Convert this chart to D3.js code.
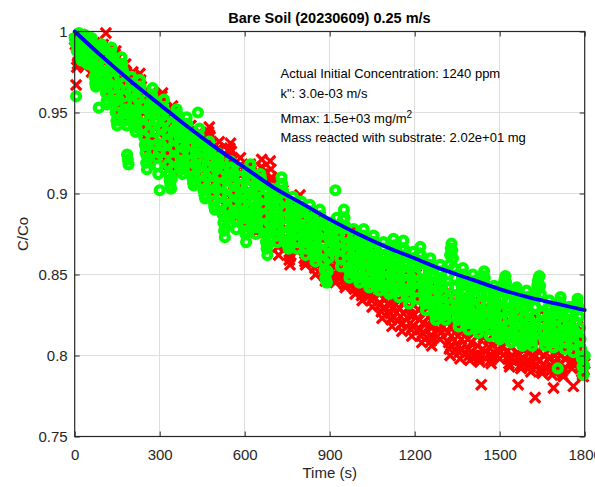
<!DOCTYPE html>
<html><head><meta charset="utf-8">
<script src="https://cdn.jsdelivr.net/npm/d3@7"></script>
<style>body{margin:0;background:#fff}svg{display:block}</style>
</head><body>
<svg id="chart" width="595" height="487"></svg>
<script>
const timeS = [
0,2.5,5,7.5,10,12.5,15,17.5,20,22.5,25,27.5,30,32.5,35,37.5,40,42.5,45,47.5,50,52.5,55,57.5,60,62.5,65,67.5,70,72.5,75,77.5,80,82.5,85,87.5,90,92.5,95,97.5,
100,102.5,105,107.5,110,112.5,115,117.5,120,122.5,125,127.5,130,132.5,135,137.5,140,142.5,145,147.5,150,152.5,155,157.5,160,162.5,165,167.5,170,172.5,175,177.5,180,182.5,185,187.5,190,192.5,195,197.5,
200,202.5,205,207.5,210,212.5,215,217.5,220,222.5,225,227.5,230,232.5,235,237.5,240,242.5,245,247.5,250,252.5,255,257.5,260,262.5,265,267.5,270,272.5,275,277.5,280,282.5,285,287.5,290,292.5,295,297.5,
300,302.5,305,307.5,310,312.5,315,317.5,320,322.5,325,327.5,330,332.5,335,337.5,340,342.5,345,347.5,350,352.5,355,357.5,360,362.5,365,367.5,370,372.5,375,377.5,380,382.5,385,387.5,390,392.5,395,397.5,
400,402.5,405,407.5,410,412.5,415,417.5,420,422.5,425,427.5,430,432.5,435,437.5,440,442.5,445,447.5,450,452.5,455,457.5,460,462.5,465,467.5,470,472.5,475,477.5,480,482.5,485,487.5,490,492.5,495,497.5,
500,502.5,505,507.5,510,512.5,515,517.5,520,522.5,525,527.5,530,532.5,535,537.5,540,542.5,545,547.5,550,552.5,555,557.5,560,562.5,565,567.5,570,572.5,575,577.5,580,582.5,585,587.5,590,592.5,595,597.5,
600,602.5,605,607.5,610,612.5,615,617.5,620,622.5,625,627.5,630,632.5,635,637.5,640,642.5,645,647.5,650,652.5,655,657.5,660,662.5,665,667.5,670,672.5,675,677.5,680,682.5,685,687.5,690,692.5,695,697.5,
700,702.5,705,707.5,710,712.5,715,717.5,720,722.5,725,727.5,730,732.5,735,737.5,740,742.5,745,747.5,750,752.5,755,757.5,760,762.5,765,767.5,770,772.5,775,777.5,780,782.5,785,787.5,790,792.5,795,797.5,
800,802.5,805,807.5,810,812.5,815,817.5,820,822.5,825,827.5,830,832.5,835,837.5,840,842.5,845,847.5,850,852.5,855,857.5,860,862.5,865,867.5,870,872.5,875,877.5,880,882.5,885,887.5,890,892.5,895,897.5,
900,902.5,905,907.5,910,912.5,915,917.5,920,922.5,925,927.5,930,932.5,935,937.5,940,942.5,945,947.5,950,952.5,955,957.5,960,962.5,965,967.5,970,972.5,975,977.5,980,982.5,985,987.5,990,992.5,995,997.5,
1000,1002.5,1005,1007.5,1010,1012.5,1015,1017.5,1020,1022.5,1025,1027.5,1030,1032.5,1035,1037.5,1040,1042.5,1045,1047.5,1050,1052.5,1055,1057.5,1060,1062.5,1065,1067.5,1070,1072.5,1075,1077.5,1080,1082.5,1085,1087.5,1090,1092.5,1095,1097.5,
1100,1102.5,1105,1107.5,1110,1112.5,1115,1117.5,1120,1122.5,1125,1127.5,1130,1132.5,1135,1137.5,1140,1142.5,1145,1147.5,1150,1152.5,1155,1157.5,1160,1162.5,1165,1167.5,1170,1172.5,1175,1177.5,1180,1182.5,1185,1187.5,1190,1192.5,1195,1197.5,
1200,1202.5,1205,1207.5,1210,1212.5,1215,1217.5,1220,1222.5,1225,1227.5,1230,1232.5,1235,1237.5,1240,1242.5,1245,1247.5,1250,1252.5,1255,1257.5,1260,1262.5,1265,1267.5,1270,1272.5,1275,1277.5,1280,1282.5,1285,1287.5,1290,1292.5,1295,1297.5,
1300,1302.5,1305,1307.5,1310,1312.5,1315,1317.5,1320,1322.5,1325,1327.5,1330,1332.5,1335,1337.5,1340,1342.5,1345,1347.5,1350,1352.5,1355,1357.5,1360,1362.5,1365,1367.5,1370,1372.5,1375,1377.5,1380,1382.5,1385,1387.5,1390,1392.5,1395,1397.5,
1400,1402.5,1405,1407.5,1410,1412.5,1415,1417.5,1420,1422.5,1425,1427.5,1430,1432.5,1435,1437.5,1440,1442.5,1445,1447.5,1450,1452.5,1455,1457.5,1460,1462.5,1465,1467.5,1470,1472.5,1475,1477.5,1480,1482.5,1485,1487.5,1490,1492.5,1495,1497.5,
1500,1502.5,1505,1507.5,1510,1512.5,1515,1517.5,1520,1522.5,1525,1527.5,1530,1532.5,1535,1537.5,1540,1542.5,1545,1547.5,1550,1552.5,1555,1557.5,1560,1562.5,1565,1567.5,1570,1572.5,1575,1577.5,1580,1582.5,1585,1587.5,1590,1592.5,1595,1597.5,
1600,1602.5,1605,1607.5,1610,1612.5,1615,1617.5,1620,1622.5,1625,1627.5,1630,1632.5,1635,1637.5,1640,1642.5,1645,1647.5,1650,1652.5,1655,1657.5,1660,1662.5,1665,1667.5,1670,1672.5,1675,1677.5,1680,1682.5,1685,1687.5,1690,1692.5,1695,1697.5,
1700,1702.5,1705,1707.5,1710,1712.5,1715,1717.5,1720,1722.5,1725,1727.5,1730,1732.5,1735,1737.5,1740,1742.5,1745,1747.5,1750,1752.5,1755,1757.5,1760,1762.5,1765,1767.5,1770,1772.5,1775,1777.5,1780,1782.5,1785,1787.5,1790,1792.5,1795,1797.5,
1800];

const redCC = [
0.995,0.992,0.967,0.978,0.980,0.986,0.992,0.995,0.998,0.994,0.990,0.988,0.985,0.982,0.978,0.983,0.988,0.992,0.995,0.993,0.990,0.986,0.982,0.979,0.975,0.980,0.985,0.989,0.993,0.990,0.987,0.982,0.978,0.974,0.970,0.975,0.980,0.985,0.990,0.991,
0.992,0.988,0.985,0.987,0.999,0.990,0.988,0.983,0.978,0.973,0.968,0.964,0.960,0.966,0.972,0.978,0.983,0.986,0.988,0.983,0.978,0.971,0.965,0.960,0.955,0.951,0.948,0.954,0.960,0.966,0.972,0.976,0.980,0.975,0.970,0.964,0.958,0.951,0.945,0.953,
0.962,0.968,0.975,0.972,0.968,0.961,0.955,0.950,0.945,0.951,0.958,0.966,0.974,0.970,0.966,0.960,0.955,0.950,0.945,0.940,0.935,0.930,0.925,0.932,0.940,0.946,0.952,0.957,0.962,0.960,0.958,0.953,0.948,0.941,0.935,0.928,0.922,0.926,0.930,0.938,
0.945,0.951,0.958,0.960,0.962,0.956,0.950,0.944,0.938,0.931,0.925,0.921,0.918,0.924,0.930,0.938,0.945,0.950,0.954,0.951,0.948,0.941,0.935,0.928,0.922,0.917,0.912,0.916,0.920,0.926,0.932,0.937,0.942,0.938,0.935,0.928,0.922,0.918,0.915,0.920,
0.925,0.930,0.935,0.938,0.942,0.937,0.932,0.925,0.918,0.915,0.912,0.916,0.920,0.925,0.930,0.934,0.938,0.932,0.926,0.920,0.915,0.910,0.905,0.908,0.912,0.918,0.925,0.930,0.935,0.938,0.941,0.935,0.930,0.924,0.918,0.912,0.906,0.902,0.898,0.905,
0.912,0.918,0.925,0.928,0.932,0.927,0.922,0.916,0.910,0.904,0.898,0.893,0.888,0.894,0.900,0.908,0.915,0.920,0.926,0.928,0.931,0.926,0.920,0.914,0.908,0.901,0.895,0.890,0.885,0.891,0.898,0.905,0.912,0.917,0.922,0.917,0.912,0.906,0.900,0.895,
0.890,0.885,0.880,0.888,0.895,0.901,0.908,0.913,0.918,0.914,0.910,0.904,0.898,0.892,0.886,0.881,0.876,0.882,0.888,0.895,0.902,0.907,0.912,0.916,0.921,0.916,0.912,0.905,0.898,0.891,0.884,0.878,0.872,0.878,0.884,0.890,0.920,0.915,0.910,0.908,
0.905,0.900,0.895,0.890,0.884,0.878,0.872,0.867,0.862,0.868,0.875,0.882,0.890,0.896,0.902,0.898,0.895,0.890,0.884,0.878,0.872,0.867,0.862,0.859,0.856,0.862,0.868,0.875,0.882,0.888,0.894,0.891,0.888,0.882,0.876,0.870,0.865,0.870,0.899,0.892,
0.885,0.878,0.872,0.866,0.860,0.858,0.856,0.861,0.866,0.872,0.878,0.884,0.890,0.886,0.882,0.876,0.870,0.864,0.858,0.854,0.850,0.856,0.862,0.868,0.875,0.880,0.886,0.882,0.878,0.872,0.865,0.858,0.852,0.849,0.846,0.850,0.855,0.861,0.868,0.874,
0.880,0.876,0.872,0.866,0.860,0.855,0.850,0.847,0.845,0.850,0.856,0.862,0.868,0.873,0.878,0.874,0.870,0.864,0.858,0.852,0.847,0.844,0.842,0.847,0.852,0.858,0.865,0.870,0.875,0.872,0.868,0.862,0.856,0.850,0.845,0.841,0.838,0.842,0.877,0.868,
0.862,0.856,0.850,0.845,0.840,0.837,0.834,0.840,0.845,0.852,0.858,0.863,0.868,0.864,0.860,0.854,0.848,0.843,0.838,0.834,0.830,0.836,0.842,0.848,0.855,0.860,0.865,0.860,0.856,0.850,0.844,0.838,0.832,0.827,0.823,0.829,0.835,0.841,0.848,0.853,
0.858,0.853,0.848,0.842,0.836,0.831,0.826,0.822,0.818,0.824,0.830,0.836,0.843,0.849,0.855,0.850,0.846,0.840,0.834,0.829,0.824,0.819,0.815,0.820,0.826,0.833,0.840,0.846,0.852,0.847,0.842,0.836,0.830,0.825,0.820,0.816,0.812,0.818,0.825,0.831,
0.838,0.844,0.850,0.845,0.840,0.834,0.828,0.822,0.816,0.812,0.808,0.814,0.820,0.827,0.834,0.840,0.846,0.841,0.836,0.830,0.824,0.818,0.812,0.809,0.806,0.812,0.818,0.825,0.832,0.838,0.843,0.838,0.834,0.828,0.822,0.816,0.810,0.814,0.818,0.824,
0.830,0.836,0.842,0.838,0.834,0.827,0.820,0.814,0.808,0.804,0.800,0.806,0.812,0.819,0.826,0.832,0.838,0.834,0.830,0.824,0.818,0.812,0.806,0.802,0.798,0.804,0.810,0.817,0.824,0.830,0.836,0.832,0.828,0.822,0.815,0.810,0.804,0.800,0.797,0.802,
0.808,0.815,0.822,0.828,0.834,0.830,0.826,0.819,0.812,0.806,0.800,0.798,0.796,0.800,0.782,0.800,0.804,0.811,0.818,0.824,0.830,0.826,0.822,0.816,0.810,0.805,0.800,0.797,0.795,0.800,0.806,0.813,0.820,0.825,0.830,0.825,0.820,0.814,0.808,0.803,
0.798,0.802,0.806,0.812,0.818,0.823,0.828,0.824,0.820,0.814,0.808,0.803,0.798,0.795,0.793,0.799,0.805,0.811,0.818,0.823,0.828,0.824,0.820,0.814,0.808,0.802,0.782,0.800,0.797,0.794,0.792,0.798,0.804,0.810,0.816,0.821,0.826,0.822,0.818,0.812,
0.806,0.801,0.796,0.793,0.790,0.795,0.800,0.806,0.812,0.818,0.774,0.820,0.824,0.819,0.814,0.808,0.802,0.797,0.792,0.790,0.789,0.794,0.800,0.807,0.814,0.819,0.824,0.820,0.816,0.810,0.804,0.799,0.794,0.791,0.788,0.792,0.780,0.795,0.800,0.806,
0.812,0.817,0.822,0.817,0.812,0.806,0.800,0.795,0.790,0.788,0.787,0.792,0.798,0.804,0.810,0.815,0.820,0.816,0.812,0.806,0.800,0.796,0.792,0.795,0.781,0.797,0.796,0.802,0.808,0.813,0.818,0.814,0.810,0.804,0.798,0.794,0.790,0.788,0.787,0.791,
0.795];

const greenCC = [
0.996,0.993,0.960,0.988,0.991,0.996,0.999,0.993,0.987,0.984,0.982,0.989,0.994,0.997,0.998,0.994,0.989,0.983,0.980,0.982,0.985,0.990,0.993,0.995,0.996,0.990,0.984,0.978,0.972,0.968,0.966,0.971,0.978,0.975,0.953,0.982,0.989,0.991,0.992,0.989,
0.985,0.980,0.975,0.968,0.962,0.957,0.955,0.961,0.968,0.975,0.982,0.987,0.990,0.984,0.978,0.971,0.965,0.957,0.950,0.945,0.942,0.950,0.958,0.965,0.972,0.978,0.984,0.980,0.976,0.968,0.960,0.952,0.945,0.942,0.924,0.921,0.918,0.952,0.950,0.962,
0.972,0.968,0.963,0.956,0.950,0.944,0.938,0.941,0.946,0.952,0.958,0.965,0.970,0.966,0.962,0.955,0.948,0.941,0.935,0.930,0.925,0.919,0.915,0.922,0.930,0.938,0.945,0.951,0.957,0.961,0.965,0.958,0.952,0.945,0.938,0.930,0.922,0.917,0.912,0.925,
0.902,0.935,0.930,0.940,0.948,0.953,0.958,0.951,0.945,0.938,0.932,0.925,0.918,0.912,0.908,0.905,0.903,0.909,0.915,0.921,0.928,0.934,0.940,0.946,0.952,0.949,0.945,0.940,0.935,0.930,0.925,0.918,0.912,0.915,0.920,0.928,0.935,0.941,0.947,0.943,
0.938,0.934,0.930,0.925,0.920,0.915,0.910,0.907,0.905,0.911,0.918,0.925,0.932,0.935,0.950,0.936,0.940,0.932,0.925,0.918,0.912,0.907,0.902,0.899,0.897,0.903,0.910,0.917,0.924,0.928,0.932,0.926,0.920,0.913,0.906,0.900,0.895,0.892,0.890,0.903,
0.915,0.920,0.925,0.922,0.918,0.911,0.905,0.899,0.893,0.887,0.882,0.877,0.873,0.879,0.885,0.891,0.898,0.904,0.910,0.915,0.920,0.916,0.912,0.906,0.900,0.894,0.888,0.883,0.878,0.884,0.890,0.897,0.905,0.910,0.915,0.910,0.905,0.899,0.893,0.886,
0.880,0.875,0.870,0.877,0.885,0.892,0.900,0.909,0.918,0.913,0.908,0.901,0.895,0.889,0.883,0.879,0.875,0.881,0.888,0.895,0.902,0.907,0.912,0.909,0.905,0.898,0.892,0.886,0.880,0.875,0.870,0.866,0.862,0.868,0.875,0.882,0.890,0.897,0.903,0.900,
0.897,0.892,0.888,0.883,0.878,0.874,0.870,0.877,0.885,0.893,0.900,0.905,0.910,0.906,0.902,0.896,0.890,0.885,0.880,0.875,0.870,0.868,0.866,0.872,0.878,0.884,0.890,0.894,0.898,0.893,0.888,0.882,0.876,0.871,0.866,0.870,0.875,0.881,0.888,0.892,
0.895,0.890,0.885,0.878,0.872,0.867,0.862,0.866,0.870,0.876,0.882,0.888,0.893,0.889,0.885,0.880,0.875,0.870,0.865,0.861,0.858,0.863,0.868,0.874,0.880,0.885,0.890,0.886,0.882,0.876,0.870,0.864,0.858,0.853,0.848,0.846,0.845,0.852,0.860,0.866,
0.872,0.877,0.882,0.879,0.875,0.870,0.865,0.868,0.902,0.880,0.885,0.880,0.875,0.870,0.865,0.860,0.855,0.866,0.878,0.884,0.890,0.885,0.880,0.874,0.868,0.863,0.858,0.853,0.848,0.851,0.855,0.861,0.868,0.873,0.878,0.874,0.870,0.865,0.860,0.856,
0.852,0.848,0.845,0.851,0.858,0.864,0.870,0.874,0.878,0.873,0.868,0.863,0.858,0.853,0.848,0.845,0.842,0.848,0.855,0.861,0.866,0.870,0.874,0.870,0.866,0.861,0.856,0.851,0.846,0.843,0.840,0.845,0.850,0.856,0.862,0.866,0.870,0.866,0.862,0.857,
0.852,0.847,0.843,0.840,0.838,0.844,0.850,0.856,0.862,0.867,0.872,0.868,0.865,0.860,0.855,0.850,0.845,0.840,0.836,0.842,0.848,0.854,0.860,0.865,0.871,0.866,0.862,0.856,0.850,0.845,0.840,0.836,0.832,0.837,0.842,0.848,0.855,0.860,0.864,0.860,
0.856,0.850,0.845,0.840,0.835,0.846,0.858,0.863,0.867,0.862,0.858,0.852,0.846,0.841,0.836,0.832,0.828,0.834,0.840,0.846,0.852,0.856,0.860,0.855,0.850,0.844,0.838,0.833,0.828,0.825,0.822,0.828,0.834,0.840,0.846,0.851,0.856,0.852,0.848,0.843,
0.838,0.833,0.828,0.825,0.822,0.828,0.835,0.842,0.850,0.856,0.862,0.866,0.869,0.865,0.860,0.854,0.848,0.842,0.836,0.831,0.826,0.822,0.818,0.824,0.830,0.836,0.843,0.848,0.854,0.850,0.846,0.840,0.834,0.829,0.824,0.820,0.816,0.822,0.828,0.834,
0.840,0.845,0.850,0.846,0.842,0.836,0.830,0.825,0.820,0.817,0.814,0.820,0.826,0.832,0.838,0.842,0.846,0.849,0.852,0.848,0.843,0.838,0.832,0.827,0.822,0.817,0.812,0.816,0.820,0.826,0.832,0.838,0.843,0.840,0.836,0.830,0.824,0.819,0.814,0.812,
0.810,0.816,0.822,0.828,0.835,0.840,0.845,0.847,0.849,0.845,0.840,0.834,0.828,0.823,0.818,0.813,0.808,0.811,0.815,0.821,0.828,0.833,0.838,0.840,0.842,0.837,0.832,0.826,0.820,0.815,0.810,0.808,0.806,0.812,0.818,0.824,0.830,0.835,0.840,0.836,
0.832,0.827,0.822,0.817,0.812,0.809,0.806,0.812,0.818,0.824,0.830,0.835,0.840,0.843,0.846,0.848,0.849,0.843,0.838,0.832,0.826,0.820,0.815,0.810,0.806,0.809,0.812,0.818,0.824,0.829,0.834,0.830,0.826,0.820,0.815,0.810,0.805,0.808,0.812,0.817,
0.822,0.826,0.792,0.827,0.830,0.833,0.836,0.831,0.826,0.820,0.814,0.809,0.804,0.808,0.812,0.817,0.822,0.826,0.830,0.826,0.822,0.817,0.812,0.807,0.802,0.808,0.815,0.821,0.828,0.832,0.835,0.830,0.824,0.817,0.810,0.804,0.798,0.793,0.788,0.794,
0.800];

const modelTime = [0,100,200,300,400,500,600,700,800,900,1000,1100,1200,1300,1400,1500,1600,1700,1800];
const modelCC = [1.000,0.984,0.969,0.955,0.941,0.928,0.916,0.904,0.894,0.884,0.875,0.867,0.860,0.853,0.847,0.841,0.836,0.832,0.828];

const xTickValues = [0,300,600,900,1200,1500,1800];
const xTickLabels = ["0","300","600","900","1200","1500","1800"];
const yTickValues = [0.75,0.8,0.85,0.9,0.95,1];
const yTickLabels = ["0.75","0.8","0.85","0.9","0.95","1"];

const titleText = "Bare Soil (20230609) 0.25 m/s";
const xLabelText = "Time (s)";
const yLabelText = "C/Co";
const annotationLines = [
  {text: "Actual Initial Concentration: 1240 ppm", sup: ""},
  {text: "k\": 3.0e-03 m/s", sup: ""},
  {text: "Mmax: 1.5e+03 mg/m", sup: "2"},
  {text: "Mass reacted with substrate: 2.02e+01 mg", sup: ""}
];

// ---- DRAWING ----
const FONT = "'Liberation Sans', Arial, Helvetica, sans-serif";
const svg = d3.select("#chart");
const L = 74.7, R = 584.7, T = 31.5, B = 436.5;
const x = d3.scaleLinear().domain([0,1800]).range([L,R]);
const y = d3.scaleLinear().domain([0.75,1]).range([B,T]);

svg.append("rect").attr("width",595).attr("height",487).attr("fill","#fff");

// grid
const grid = svg.append("g").attr("stroke","#dedede").attr("stroke-width",1).attr("shape-rendering","crispEdges");
grid.selectAll("line.gx").data(xTickValues.slice(1,-1)).join("line")
  .attr("x1",d=>x(d)).attr("x2",d=>x(d)).attr("y1",T).attr("y2",B);
grid.selectAll("line.gy").data(yTickValues.slice(1,-1)).join("line")
  .attr("y1",d=>y(d)).attr("y2",d=>y(d)).attr("x1",L).attr("x2",R);

const redPts = timeS.map((t,i)=>({t, v: redCC[i]}));
const greenPts = timeS.map((t,i)=>({t, v: greenCC[i]}));

// red x markers
svg.append("g").selectAll("path").data(redPts).join("path")
  .attr("transform",d=>`translate(${x(d.t)},${y(d.v)})`)
  .attr("d","M-4,-4L4,4M-4,4L4,-4")
  .attr("stroke","#ff0000").attr("stroke-width",3.2).attr("stroke-linecap","square").attr("fill","none");

// green circle markers
svg.append("g").selectAll("circle").data(greenPts).join("circle")
  .attr("cx",d=>x(d.t)).attr("cy",d=>y(d.v)).attr("r",4)
  .attr("fill","none").attr("stroke","#00ff00").attr("stroke-width",4.2);

// model curve
const line = d3.line().x((d,i)=>x(modelTime[i])).y(d=>y(d)).curve(d3.curveMonotoneX);
svg.append("path").attr("d",line(modelCC)).attr("fill","none")
  .attr("stroke","#0000ff").attr("stroke-width",3.8).attr("stroke-linecap","round");

// axes
const axColor = "#262626";
const gB = svg.append("g").attr("transform",`translate(0,${B})`)
  .call(d3.axisBottom(x).tickValues(xTickValues).tickFormat((d,i)=>xTickLabels[i]).tickSizeInner(-5).tickSizeOuter(0).tickPadding(13));
const gL = svg.append("g").attr("transform",`translate(${L},0)`)
  .call(d3.axisLeft(y).tickValues(yTickValues).tickFormat((d,i)=>yTickLabels[i]).tickSizeInner(-5).tickSizeOuter(0).tickPadding(7));
const gT = svg.append("g").attr("transform",`translate(0,${T})`)
  .call(d3.axisTop(x).tickValues(xTickValues).tickFormat("").tickSizeInner(-5).tickSizeOuter(0));
const gR = svg.append("g").attr("transform",`translate(${R},0)`)
  .call(d3.axisRight(y).tickValues(yTickValues).tickFormat("").tickSizeInner(-5).tickSizeOuter(0));
[gB,gL,gT,gR].forEach(g=>{
  g.select(".domain").remove();
  g.selectAll(".tick line").attr("stroke",axColor).attr("stroke-width",1);
  g.selectAll(".tick text").attr("fill",axColor).style("font-family",FONT).style("font-size","15px");
});
svg.append("rect").attr("x",L).attr("y",T).attr("width",R-L).attr("height",B-T)
  .attr("fill","none").attr("stroke",axColor).attr("stroke-width",1.2);

// title & labels
svg.append("text").attr("x",329.5).attr("y",23).attr("text-anchor","middle")
  .style("font-family",FONT).style("font-size","14.5px").style("font-weight","bold").attr("fill","#000")
  .text(titleText);
svg.append("text").attr("x",329.7).attr("y",478).attr("text-anchor","middle")
  .style("font-family",FONT).style("font-size","15px").attr("fill",axColor).text(xLabelText);
svg.append("text").attr("transform","translate(28,234) rotate(-90)").attr("text-anchor","middle")
  .style("font-family",FONT).style("font-size","15px").attr("fill",axColor).text(yLabelText);

// annotation
const annY = [77.5, 97.5, 122.5, 141.5];
annotationLines.forEach((ln,i)=>{
  const t = svg.append("text").attr("x",280.5).attr("y",annY[i])
    .style("font-family",FONT).style("font-size","13px").attr("fill","#000");
  t.append("tspan").text(ln.text);
  if (ln.sup) t.append("tspan").attr("dy",-5).style("font-size","10px").text(ln.sup);
});
</script>
</body></html>
